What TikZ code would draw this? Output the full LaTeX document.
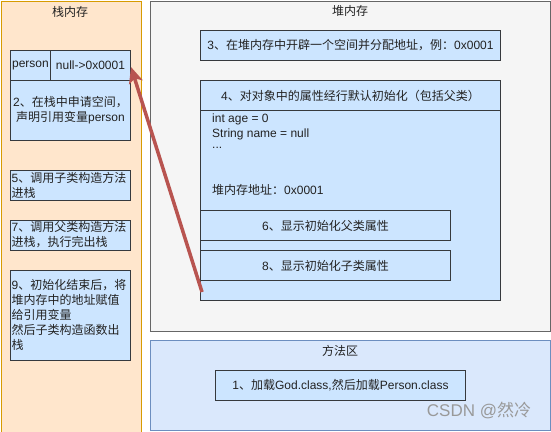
\documentclass[tikz,border=0pt]{standalone}
\usepackage{fontspec}
\setmainfont{Liberation Sans}
\newfontfamily\cjkf{Noto Sans CJK SC}
\newcommand\zh[1]{{\cjkf #1}}
\usetikzlibrary{arrows.meta}
\definecolor{stackfill}{HTML}{FFE6CC}
\definecolor{stackline}{HTML}{D79B00}
\definecolor{heapfill}{HTML}{F5F5F5}
\definecolor{heapline}{HTML}{666666}
\definecolor{boxfill}{HTML}{CCE5FF}
\definecolor{boxline}{HTML}{36393D}
\definecolor{methfill}{HTML}{DAE8FC}
\definecolor{methline}{HTML}{6C8EBF}
\definecolor{arrowred}{HTML}{B85450}
\definecolor{txt}{HTML}{222222}
\begin{document}
\begin{tikzpicture}[x=1pt,y=-1pt,
  every node/.style={font=\fontsize{12}{15}\selectfont, text=txt},
  area/.style={draw, line width=1pt, inner sep=0pt},
  cell/.style={draw=boxline, fill=boxfill, line width=1pt, inner sep=0pt},
  lbl/.style={inner sep=0pt},
  leftlbl/.style={inner sep=0pt, anchor=west, align=left},
]
\useasboundingbox (0,0) rectangle (551,431);
% areas
\node[area, draw=stackline, fill=stackfill, minimum width=139.5pt, minimum height=440pt, anchor=north west] (stack) at (1,0.5) {};
\node[area, draw=heapline, fill=heapfill, minimum width=400pt, minimum height=330pt, anchor=north west] (heap) at (150,0.5) {};
\node[area, draw=methline, fill=methfill, minimum width=400pt, minimum height=90pt, anchor=north west] (meth) at (150,340) {};
% titles
\node[lbl] (tstack) at (70,12) {\zh{栈内存}};
\node[lbl] (theap) at (350,11) {\zh{堆内存}};
\node[lbl] (tmeth) at (340,351) {\zh{方法区}};
% stack boxes
\node[cell, minimum width=40pt, minimum height=30pt, anchor=north west] (pname) at (10,50) {};
\node[lbl] at (pname.center) {person};
\node[cell, minimum width=80pt, minimum height=30pt, anchor=north west] (pval) at (50,50) {};
\node[lbl] at (pval.center) {null->0x0001};
\node[cell, minimum width=120pt, minimum height=60pt, anchor=north west] (b2) at (10,80) {};
\node[lbl, align=center] (t2) at (b2.center) {2\zh{、在栈中申请空间，}\\\zh{声明引用变量}person};
\node[cell, minimum width=120pt, minimum height=30pt, anchor=north west] (b5) at (10,170) {};
\node[leftlbl] (t5) at (11.5,185) {5\zh{、调用子类构造方法}\\\zh{进栈}};
\node[cell, minimum width=120pt, minimum height=30pt, anchor=north west] (b7) at (10,220) {};
\node[leftlbl] (t7) at (11.5,235) {7\zh{、调用父类构造方法}\\\zh{进栈，执行完出栈}};
\node[cell, minimum width=120pt, minimum height=90pt, anchor=north west] (b9) at (10,270) {};
\node[leftlbl] (t9) at (11.5,315) {9\zh{、初始化结束后，将}\\\zh{堆内存中的地址赋值}\\\zh{给引用变量}\\\zh{然后子类构造函数出}\\\zh{栈}};
% heap boxes
\node[cell, minimum width=300pt, minimum height=30pt, anchor=north west] (b3) at (200,30) {};
\node[lbl] (t3) at (b3.center) {3\zh{、在堆内存中开辟一个空间并分配地址，例：}0x0001};
\node[cell, minimum width=300pt, minimum height=220pt, anchor=north west] (b4) at (200,80) {};
\node[cell, minimum width=300pt, minimum height=30pt, anchor=north west] (b4h) at (200,80) {};
\node[lbl] (t4) at (b4h.center) {4\zh{、对对象中的属性经行默认初始化（包括父类）}};
\node[lbl, anchor=west] (l1) at (212,119) {int age = 0};
\node[lbl, anchor=west] (l2) at (212,134) {String name = null};
\node[lbl, anchor=west] (l3) at (212,148) {...};
\node[lbl, anchor=west] (l4) at (212,190) {\zh{堆内存地址：}0x0001};
\node[cell, minimum width=250pt, minimum height=30pt, anchor=north west] (b6) at (200,210) {};
\node[lbl] (t6) at (b6.center) {6\zh{、显示初始化父类属性}};
\node[cell, minimum width=250pt, minimum height=30pt, anchor=north west] (b8) at (200,250) {};
\node[lbl] (t8) at (b8.center) {8\zh{、显示初始化子类属性}};
% method area box
\node[cell, minimum width=250pt, minimum height=30pt, anchor=north west] (b1) at (215,370) {};
\node[lbl] (t1) at (b1.center) {1\zh{、加载}God.class,\zh{然后加载}Person.class};
% watermark
\node[lbl, text=gray!80, font=\fontsize{17}{20}\selectfont] (wm) at (479,410) {CSDN @\zh{然冷}};
% arrow
\coordinate (tail) at (202,292);
\coordinate (tip) at (131,67);
\draw[arrowred, line width=3.5pt, -{Stealth[length=16pt, width=14pt, inset=4pt]}] (tail) -- (tip);
\end{tikzpicture}
\end{document}
